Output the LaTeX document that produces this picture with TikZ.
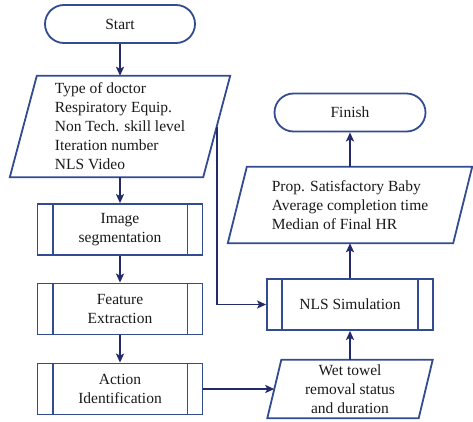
\documentclass[tikz,border=0pt]{standalone}
\usepackage{fontspec}
\setmainfont{Liberation Serif}
\usetikzlibrary{arrows.meta}
\definecolor{boxc}{RGB}{50,75,145}
\definecolor{arrc}{RGB}{35,42,105}
\definecolor{txtc}{RGB}{25,25,25}
\begin{document}
\begin{tikzpicture}[x=1pt,y=-1pt,
  every node/.style={font=\fontsize{15.5}{19}\selectfont, text=txtc},
  term/.style={draw=boxc, line width=1.8pt, rounded corners=19pt, minimum width=150pt, minimum height=38pt, inner sep=0pt},
  sub/.style={draw=boxc, line width=1.8pt, minimum width=165pt, minimum height=51pt, align=center, inner sep=0pt},
  io/.style={inner sep=0pt},
  para/.style={draw=boxc, line width=1.8pt, line join=miter},
  inner/.style={draw=boxc, line width=1.8pt},
  arr/.style={draw=arrc, line width=1.8pt, -{Stealth[length=9pt,width=8pt,inset=2pt]}}
]
\useasboundingbox (0,0) rectangle (473,421);

% left column
\node[term] (start) at (120,24) {Start};
\node[io, minimum width=193pt, minimum height=101pt, align=left] (in) at (120,126.5)
  {Type of doctor\\Respiratory Equip.\\Non Tech. skill level\\Iteration number\\NLS Video};
\draw[para] ([xshift=13.5pt]in.north west) -- ([xshift=13.5pt]in.north east)
  -- ([xshift=-13.5pt]in.south east) -- ([xshift=-13.5pt]in.south west) -- cycle;
\node[sub] (img) at (120,229.5) {Image\\segmentation};
\node[sub] (feat) at (120,309) {Feature\\Extraction};
\node[sub] (act) at (120,389) {Action\\Identification};

% right column
\node[term, minimum width=151pt] (fin) at (350,112.5) {Finish};
\node[io, minimum width=225pt, minimum height=76pt, align=left] (out) at (350,205)
  {Prop. Satisfactory Baby\\Average completion time\\Median of Final HR};
\draw[para] ([xshift=9.5pt]out.north west) -- ([xshift=9.5pt]out.north east)
  -- ([xshift=-9.5pt]out.south east) -- ([xshift=-9.5pt]out.south west) -- cycle;
\node[sub, minimum width=166pt] (nls) at (350,304.5) {NLS Simulation};
\node[io, minimum width=151pt, minimum height=58pt, align=center] (wet) at (350,389)
  {Wet towel\\removal status\\and duration};
\draw[para] ([xshift=7pt]wet.north west) -- ([xshift=7pt]wet.north east)
  -- ([xshift=-7pt]wet.south east) -- ([xshift=-7pt]wet.south west) -- cycle;

% inner bars of predefined-process boxes
\foreach \n in {img,feat,act,nls}{
  \draw[inner] ([xshift=16pt]\n.north west) -- ([xshift=16pt]\n.south west);
  \draw[inner] ([xshift=-16pt]\n.north east) -- ([xshift=-16pt]\n.south east);
}

% connectors
\draw[arr] (start) -- (in);
\draw[arr] (in) -- (img);
\draw[arr] (img) -- (feat);
\draw[arr] (feat) -- (act);
\draw[arr] (act) -- (wet);
\draw[arr] (in.east) |- (nls.west);
\draw[arr] (wet) -- (nls);
\draw[arr] (nls) -- (out);
\draw[arr] (out) -- (fin);
\end{tikzpicture}
\end{document}
